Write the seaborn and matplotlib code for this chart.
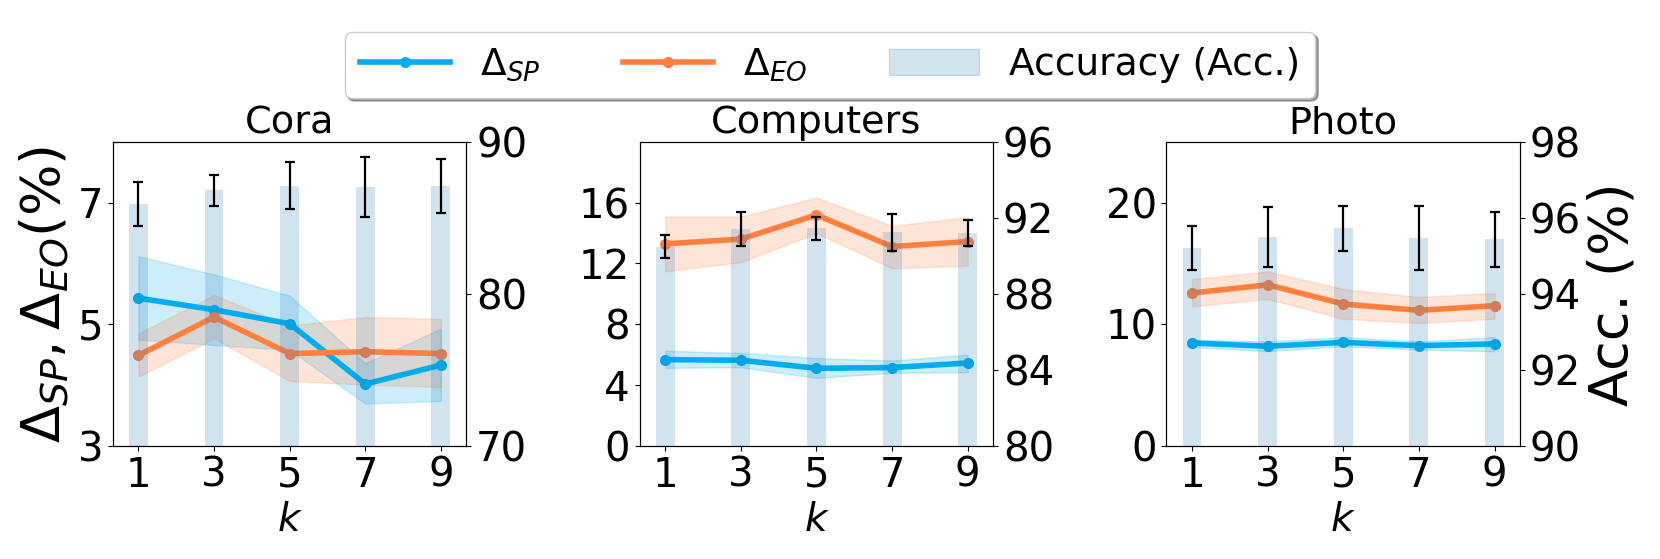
import numpy as np
import matplotlib
matplotlib.use("Agg")
import matplotlib.pyplot as plt
import seaborn as sns
from matplotlib.lines import Line2D
from matplotlib.patches import Patch

# values
k = [1, 3, 5, 7, 9]
titles = ["Cora", "Computers", "Photo"]

cora_sp = [5.43, 5.24, 5.01, 4.02, 4.33]
cora_sp_lo = [4.75, 4.66, 4.58, 3.70, 3.74]
cora_sp_hi = [6.12, 5.82, 5.47, 4.36, 4.93]
cora_eo = [4.49, 5.12, 4.52, 4.55, 4.52]
cora_eo_lo = [4.14, 4.77, 4.07, 4.01, 3.97]
cora_eo_hi = [4.85, 5.48, 4.98, 5.12, 5.09]
cora_acc = [85.9, 86.8, 87.1, 87.0, 87.1]
cora_acc_err = [1.45, 1.04, 1.55, 1.98, 1.76]

comp_sp = [5.68, 5.64, 5.11, 5.16, 5.46]
comp_sp_lo = [5.14, 5.18, 4.48, 4.81, 4.85]
comp_sp_hi = [6.27, 6.12, 5.79, 5.62, 6.01]
comp_eo = [13.29, 13.60, 15.19, 13.11, 13.44]
comp_eo_lo = [11.48, 12.09, 13.99, 11.69, 11.85]
comp_eo_hi = [15.08, 15.08, 16.33, 14.47, 15.04]
comp_acc = [90.49, 91.40, 91.45, 91.23, 91.20]
comp_acc_err = [0.60, 0.89, 0.60, 0.98, 0.70]

photo_sp = [8.47, 8.20, 8.52, 8.25, 8.39]
photo_sp_lo = [8.14, 7.79, 8.20, 7.92, 7.79]
photo_sp_hi = [8.74, 8.60, 8.96, 8.60, 8.96]
photo_eo = [12.57, 13.25, 11.67, 11.15, 11.53]
photo_eo_lo = [11.48, 12.08, 10.46, 10.11, 10.46]
photo_eo_hi = [13.72, 14.34, 12.90, 12.24, 12.57]
photo_acc = [95.21, 95.50, 95.73, 95.47, 95.43]
photo_acc_err = [0.57, 0.78, 0.59, 0.85, 0.73]

left_lims = [(3, 8), (0, 20), (0, 25)]
left_ticks = [[3, 5, 7], [0, 4, 8, 12, 16], [0, 10, 20]]
right_lims = [(70, 90), (80, 96), (90, 98)]
right_ticks = [[70, 80, 90], [80, 84, 88, 92, 96], [90, 92, 94, 96, 98]]

panels = [
    (cora_sp, cora_sp_lo, cora_sp_hi, cora_eo, cora_eo_lo, cora_eo_hi, cora_acc, cora_acc_err),
    (comp_sp, comp_sp_lo, comp_sp_hi, comp_eo, comp_eo_lo, comp_eo_hi, comp_acc, comp_acc_err),
    (photo_sp, photo_sp_lo, photo_sp_hi, photo_eo, photo_eo_lo, photo_eo_hi, photo_acc, photo_acc_err),
]

sp_color = "#00AEEF"
eo_color = "#FF7F3F"
bar_color = "tab:blue"

fig, axes = plt.subplots(1, 3, figsize=(16.6, 5.59), dpi=100)
fig.subplots_adjust(left=0.068, right=0.9157, bottom=0.202, top=0.7465, wspace=0.49)

for i, ax in enumerate(axes):
    sp, sp_lo, sp_hi, eo, eo_lo, eo_hi, acc, acc_err = panels[i]
    sns.lineplot(x=k, y=sp, ax=ax, color=sp_color, marker="o", lw=4,
                 markersize=8, markeredgewidth=0)
    ax.fill_between(k, sp_lo, sp_hi, color=sp_color, alpha=0.2)
    sns.lineplot(x=k, y=eo, ax=ax, color=eo_color, marker="o", lw=4,
                 markersize=8, markeredgewidth=0)
    ax.fill_between(k, eo_lo, eo_hi, color=eo_color, alpha=0.2)
    ax.set_ylim(*left_lims[i])
    ax.set_yticks(left_ticks[i])
    ax.set_xticks(k)
    ax.tick_params(labelsize=29)
    ax.set_xlabel("$k$", fontsize=28)
    ax.set_title(titles[i], fontsize=27.5)

    ax2 = ax.twinx()
    ax2.bar(k, np.array(acc) - right_lims[i][0], width=0.5, bottom=right_lims[i][0],
            color=bar_color, alpha=0.2, yerr=acc_err, capsize=3.8,
            error_kw=dict(elinewidth=1.6, capthick=1.6, ecolor="black"))
    ax2.set_ylim(*right_lims[i])
    ax2.set_yticks(right_ticks[i])
    ax2.tick_params(labelsize=29)
    if i == 2:
        ax2.set_ylabel("Acc. (%)", fontsize=39)

axes[0].set_ylabel(r"$\Delta_{SP}, \Delta_{EO}$(%)", fontsize=39)

handles = [
    Line2D([], [], color=sp_color, marker="o", lw=4, markersize=7),
    Line2D([], [], color=eo_color, marker="o", lw=4, markersize=7),
    Patch(color=bar_color, alpha=0.2),
]
fig.legend(handles, [r"$\Delta_{SP}$", r"$\Delta_{EO}$", "Accuracy (Acc.)"],
           loc="upper center", bbox_to_anchor=(0.5, 0.977), ncol=3,
           fontsize=27, handlelength=2.4, columnspacing=2.2,
           shadow=True, fancybox=True)

plt.savefig("out.png", dpi=100)
